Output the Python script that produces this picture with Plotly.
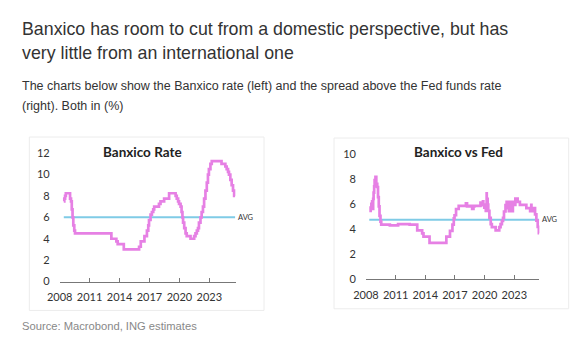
import plotly.graph_objects as go

# ---------------- data ----------------
rate_dates = ['2008-06-01', '2008-06-20', '2008-07-18', '2008-08-15', '2009-01-16', '2009-02-20',
              '2009-03-20', '2009-04-17', '2009-05-15', '2009-06-19', '2009-07-17', '2013-03-08',
              '2013-09-06', '2013-10-25', '2014-06-06', '2015-12-17', '2016-02-17', '2016-06-30',
              '2016-09-29', '2016-11-17', '2016-12-15', '2017-02-09', '2017-03-30', '2017-05-18',
              '2017-06-22', '2017-12-14', '2018-02-08', '2018-06-21', '2018-12-20', '2019-08-15',
              '2019-09-26', '2019-11-14', '2019-12-19', '2020-02-13', '2020-03-20', '2020-04-21',
              '2020-05-14', '2020-06-25', '2020-08-13', '2020-09-24', '2021-02-11', '2021-06-24',
              '2021-08-12', '2021-09-30', '2021-11-11', '2021-12-16', '2022-02-10', '2022-03-24',
              '2022-05-12', '2022-06-23', '2022-08-11', '2022-09-29', '2022-11-10', '2022-12-15',
              '2023-02-09', '2023-03-30', '2024-03-21', '2024-08-08', '2024-09-26', '2024-11-14',
              '2024-12-19', '2025-02-06', '2025-03-27', '2025-05-15', '2025-06-26', '2025-08-01']
rate_values = [7.5, 7.75, 8.0, 8.25, 7.75, 7.5,
               6.75, 6.0, 5.25, 4.75, 4.5, 4.0,
               3.75, 3.5, 3.0, 3.25, 3.75, 4.25,
               4.75, 5.25, 5.75, 6.25, 6.5, 6.75,
               7.0, 7.25, 7.5, 7.75, 8.25, 8.0,
               7.75, 7.5, 7.25, 7.0, 6.5, 6.0,
               5.5, 5.0, 4.5, 4.25, 4.0, 4.25,
               4.5, 4.75, 5.0, 5.5, 6.0, 6.5,
               7.0, 7.75, 8.5, 9.25, 10.0, 10.5,
               11.0, 11.25, 11.0, 10.75, 10.5, 10.25,
               10.0, 9.5, 9.0, 8.5, 8.0, 8.0]
rate_avg = 6.0

spread_dates = ['2008-05-01', '2008-06-20', '2008-07-18', '2008-08-15', '2008-09-15', '2008-09-22',
                '2008-10-08', '2008-10-29', '2008-11-15', '2008-12-16', '2009-01-16', '2009-02-20',
                '2009-03-20', '2009-04-17', '2009-05-15', '2009-06-19', '2009-07-17', '2010-06-01',
                '2011-04-01', '2012-06-01', '2013-03-08', '2013-09-06', '2013-10-25', '2014-06-06',
                '2015-12-17', '2016-02-17', '2016-06-30', '2016-09-29', '2016-11-17', '2016-12-15',
                '2017-02-09', '2017-05-18', '2018-02-08', '2018-03-22', '2018-06-21', '2018-09-27',
                '2018-11-15', '2018-12-20', '2019-08-01', '2019-08-15', '2019-09-19', '2019-09-26',
                '2019-10-31', '2019-11-14', '2019-12-19', '2020-02-13', '2020-03-04', '2020-03-16',
                '2020-03-20', '2020-04-21', '2020-05-14', '2020-06-25', '2020-08-13', '2020-09-24',
                '2021-02-11', '2021-06-24', '2021-08-12', '2021-09-30', '2021-11-11', '2021-12-16',
                '2022-02-10', '2022-03-17', '2022-03-24', '2022-05-05', '2022-05-12', '2022-06-16',
                '2022-06-23', '2022-07-28', '2022-08-11', '2022-09-22', '2022-09-29', '2022-11-03',
                '2022-11-10', '2023-02-02', '2023-02-09', '2023-03-23', '2023-03-30', '2023-05-04',
                '2023-07-27', '2024-03-21', '2024-08-08', '2024-09-19', '2024-09-26', '2024-11-08',
                '2024-11-14', '2025-02-06', '2025-03-27', '2025-05-15', '2025-06-26', '2025-07-10']
spread_values = [5.45, 5.7, 6.0, 6.2, 5.6, 6.4,
                 6.9, 7.4, 7.9, 8.15, 7.6, 7.35,
                 6.55, 5.8, 5.05, 4.6, 4.35, 4.3,
                 4.4, 4.35, 3.9, 3.65, 3.4, 2.9,
                 2.9, 3.4, 3.85, 4.35, 4.85, 5.1,
                 5.6, 5.85, 6.05, 5.8, 5.85, 5.6,
                 5.8, 5.85, 6.1, 5.9, 6.1, 5.9,
                 6.2, 5.95, 5.7, 5.45, 5.9, 6.85,
                 6.4, 5.95, 5.45, 4.9, 4.4, 4.15,
                 3.9, 4.15, 4.4, 4.65, 4.9, 5.4,
                 5.9, 5.67, 6.17, 5.67, 6.17, 5.42,
                 6.17, 5.42, 6.17, 5.42, 6.17, 5.42,
                 6.17, 5.92, 6.42, 6.17, 6.42, 6.17,
                 5.92, 5.67, 5.42, 5.92, 5.67, 5.42,
                 5.67, 5.17, 4.67, 4.17, 3.67, 3.67]
spread_avg = 4.75

left_yticks = [0, 2, 4, 6, 8, 10, 12]
right_yticks = [0, 2, 4, 6, 8, 10]

title_lines = ["Banxico has room to cut from a domestic perspective, but has",
               "very little from an international one"]
subtitle_lines = ["The charts below show the Banxico rate (left) and the spread above the Fed funds rate",
                  "(right). Both in (%)"]
source_text = "Source: Macrobond, ING estimates"

# ---------------- style ----------------
W, H = 586, 354
PINK = "#E680E4"
BLUE = "#7FCBE6"
HEAD_FONT = "Liberation Sans, Arial, sans-serif"
CHART_FONT = "Lato, Noto Sans, sans-serif"


def px_x(p):
    return p / W


def px_y(p):
    return (H - p) / H


fig = go.Figure()

# Left chart
fig.add_trace(go.Scatter(x=[rate_dates[0], rate_dates[-1]], y=[rate_avg, rate_avg], mode="lines",
                         line=dict(color=BLUE, width=2), xaxis="x", yaxis="y", hoverinfo="skip"))
fig.add_trace(go.Scatter(x=rate_dates, y=rate_values, mode="lines", line=dict(color=PINK, width=2.7, shape="hv"),
                         xaxis="x", yaxis="y"))
# Right chart
fig.add_trace(go.Scatter(x=[spread_dates[0], spread_dates[-1]], y=[spread_avg, spread_avg], mode="lines",
                         line=dict(color=BLUE, width=2), xaxis="x2", yaxis="y2", hoverinfo="skip"))
fig.add_trace(go.Scatter(x=spread_dates, y=spread_values, mode="lines", line=dict(color=PINK, width=2.7, shape="hv"),
                         xaxis="x2", yaxis="y2"))

xaxis_common = dict(type="date", tickformat="%Y", dtick="M36", tick0="2008-01-01", showgrid=False,
                    showline=True, linecolor="#777", linewidth=1, ticks="inside", ticklen=4,
                    tickcolor="#777", ticklabelstandoff=5,
                    tickfont=dict(family=CHART_FONT, size=11, color="#333"), zeroline=False)
yaxis_common = dict(showgrid=False, showline=False, zeroline=False, ticks="", ticklabelstandoff=9,
                    tickfont=dict(family=CHART_FONT, size=11, color="#333"))

fig.update_layout(
    width=W, height=H, autosize=False,
    margin=dict(l=0, r=0, t=0, b=0),
    paper_bgcolor="white", plot_bgcolor="white",
    showlegend=False,
    xaxis=dict(xaxis_common, domain=[px_x(47.7), px_x(227.7)], range=["2008-01-01", "2025-08-20"], anchor="y"),
    yaxis=dict(yaxis_common, domain=[px_y(285), px_y(151.7)], range=[0, 12], tickvals=left_yticks, anchor="x"),
    xaxis2=dict(xaxis_common, domain=[px_x(361), px_x(538.3)], range=["2008-01-01", "2025-07-15"], anchor="y2"),
    yaxis2=dict(yaxis_common, domain=[px_y(282.7), px_y(152.3)], range=[0, 10], tickvals=right_yticks, anchor="x2"),
)

# panel boxes
for x0, x1, y0, y1 in [(16.7, 256.7, 135, 315), (328.3, 568.3, 136, 313.3)]:
    fig.add_shape(type="rect", xref="paper", yref="paper", x0=px_x(x0), x1=px_x(x1), y0=px_y(y1), y1=px_y(y0),
                  line=dict(color="#ececec", width=1), fillcolor="rgba(0,0,0,0)", layer="below")

ann = []
for line, yc in zip(title_lines, [22.5, 48]):
    ann.append(dict(text=line, x=px_x(7), y=px_y(yc), xref="paper", yref="paper", xanchor="left", yanchor="middle",
                    showarrow=False, font=dict(family=HEAD_FONT, size=17.8, color="#333")))
for line, yc in zip(subtitle_lines, [82, 102.5]):
    ann.append(dict(text=line, x=px_x(7), y=px_y(yc), xref="paper", yref="paper", xanchor="left", yanchor="middle",
                    showarrow=False, font=dict(family=HEAD_FONT, size=12.5, color="#333")))
ann.append(dict(text=source_text, x=px_x(7), y=px_y(331.5), xref="paper", yref="paper", xanchor="left",
                yanchor="middle", showarrow=False, font=dict(family=HEAD_FONT, size=11.2, color="#888")))
# chart titles
ann.append(dict(text="<b>Banxico Rate</b>", x=px_x(132.5), y=px_y(151), xref="paper", yref="paper",
                xanchor="center", yanchor="middle", showarrow=False,
                font=dict(family=CHART_FONT, size=13.5, color="#222")))
ann.append(dict(text="<b>Banxico vs Fed</b>", x=px_x(456), y=px_y(151), xref="paper", yref="paper",
                xanchor="center", yanchor="middle", showarrow=False,
                font=dict(family=CHART_FONT, size=13.5, color="#222")))
# AVG labels
ann.append(dict(text="AVG", x=rate_dates[-1], y=rate_avg, xref="x", yref="y", xanchor="left", yanchor="middle",
                xshift=1, showarrow=False, font=dict(family=CHART_FONT, size=7.5, color="#333")))
ann.append(dict(text="AVG", x=spread_dates[-1], y=spread_avg, xref="x2", yref="y2", xanchor="left",
                yanchor="middle", xshift=1, showarrow=False, font=dict(family=CHART_FONT, size=7.5, color="#333")))
fig.update_layout(annotations=ann)

fig.write_html("out.html")
